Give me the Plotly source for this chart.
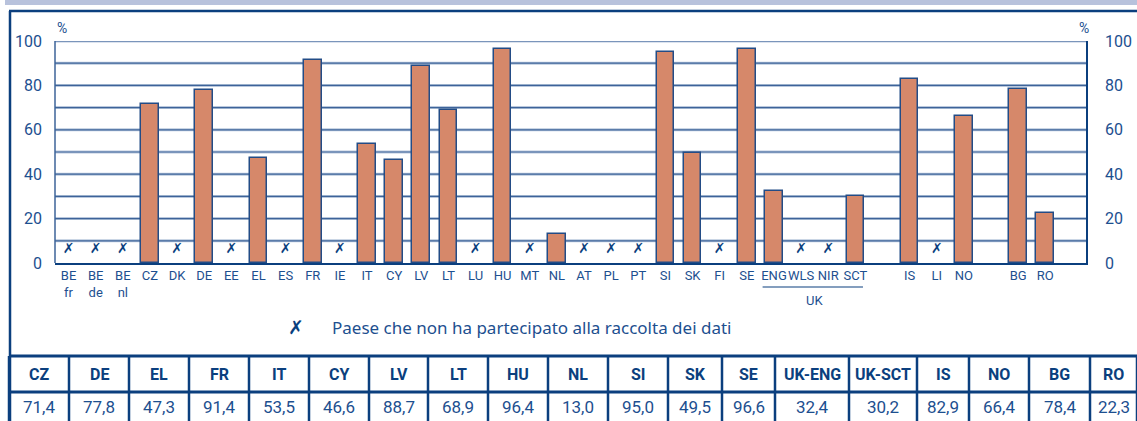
import plotly.graph_objects as go

# ---------------- data ----------------
eu_codes = ["BE<br>fr", "BE<br>de", "BE<br>nl", "CZ", "DK", "DE", "EE", "EL", "ES", "FR", "IE",
            "IT", "CY", "LV", "LT", "LU", "HU", "MT", "NL", "AT", "PL", "PT", "SI", "SK",
            "FI", "SE", "ENG", "WLS", "NIR", "SCT"]
eu_values = [None, None, None, 71.4, None, 77.8, None, 47.3, None, 91.4, None,
             53.5, 46.6, 88.7, 68.9, None, 96.4, None, 13.0, None, None, None, 95.0, 49.5,
             None, 96.6, 32.4, None, None, 30.2]
efta_codes = ["IS", "LI", "NO"]
efta_values = [82.9, None, 66.4]
cand_codes = ["BG", "RO"]
cand_values = [78.4, 22.3]
uk_codes = ["ENG", "WLS", "NIR", "SCT"]
y_ticks = [0, 20, 40, 60, 80, 100]
legend_text = "Paese che non ha partecipato alla raccolta dei dati"

# ---------------- build positions (groups separated by one empty slot) ----------------
groups = [(eu_codes, eu_values), (efta_codes, efta_values), (cand_codes, cand_values)]
xs, labels, vals = [], [], []
pos = 0
for codes, values in groups:
    for c, v in zip(codes, values):
        xs.append(pos); labels.append(c); vals.append(v)
        pos += 1
    pos += 1
n_slots = pos - 1

# ---------------- style ----------------
W, H = 1137, 421
L, R, T, B = 55, 1086, 41, 263
DARK = "#0b3f7e"
TXT = "#1d4f8f"
GRID = "#3d6399"
HALO = "#b9c8dd"
BAR = "#d6886a"
COND = "Roboto, Liberation Sans, sans-serif"
REG = "Noto Sans, Open Sans, sans-serif"


def px(x):
    return (x - L) / (R - L)


def py(y):
    return (B - y) / (B - T)


fig = go.Figure()

fig.add_trace(go.Bar(
    x=xs, y=[v if v is not None else 0 for v in vals],
    width=0.65,
    marker=dict(color=[BAR if v is not None else "rgba(0,0,0,0)" for v in vals],
                line=dict(color=["#234c86" if v is not None else "rgba(0,0,0,0)" for v in vals], width=1.5)),
    hoverinfo="skip", showlegend=False,
))

miss_x = [x for x, v in zip(xs, vals) if v is None]
fig.add_trace(go.Scatter(
    x=miss_x, y=[6] * len(miss_x), mode="text", text=["<b><i>✗</i></b>"] * len(miss_x),
    textfont=dict(size=14, color=DARK, family="DejaVu Sans"), showlegend=False, hoverinfo="skip",
))
# dummy trace for right axis
fig.add_trace(go.Scatter(x=[0], y=[0], yaxis="y2", mode="markers", marker=dict(opacity=0),
                         showlegend=False, hoverinfo="skip"))

fig.update_layout(
    width=W, height=H,
    margin=dict(l=L, r=W - R, t=T, b=H - B, autoexpand=False),
    paper_bgcolor="white", plot_bgcolor="white",
    bargap=0,
    xaxis=dict(range=[-0.5, n_slots + 0.5], tickvals=xs, ticktext=labels, tickangle=0,
               tickfont=dict(family=COND, size=13, color=TXT), showgrid=False, zeroline=False,
               showline=True, linecolor=DARK, linewidth=1.5, ticks="", fixedrange=True,
               automargin=False),
    yaxis=dict(range=[0, 100], tickvals=y_ticks, ticktext=[str(t) for t in y_ticks],
               tickfont=dict(family=COND, size=16, color=TXT), showgrid=False, zeroline=False,
               showline=False, ticks="", ticklabelstandoff=12, automargin=False),
    yaxis2=dict(range=[0, 100], overlaying="y", side="right", tickvals=y_ticks,
                ticktext=[str(t) for t in y_ticks],
                tickfont=dict(family=COND, size=16, color=TXT), showgrid=False, zeroline=False,
                showline=True, linecolor=DARK, linewidth=1.5, ticks="", ticklabelstandoff=14,
                automargin=False),
)

shapes = []
# grid lines every 10 (thin dark line with a light halo)
for g in range(10, 101, 10):
    shapes.append(dict(type="line", xref="paper", yref="y", x0=0, x1=1, y0=g, y1=g,
                       line=dict(color=HALO, width=3), layer="below"))
    shapes.append(dict(type="line", xref="paper", yref="y", x0=0, x1=1, y0=g, y1=g,
                       line=dict(color=GRID, width=1.2), layer="below"))
# left axis line
shapes.append(dict(type="line", xref="paper", yref="paper", x0=0, x1=0, y0=0, y1=1,
                   line=dict(color=GRID, width=1.5)))
# top band and frame
shapes.append(dict(type="rect", xref="paper", yref="paper", x0=px(5), x1=px(W), y0=py(0), y1=py(5),
                   fillcolor="#b8c2dc", line=dict(width=0), layer="below"))
shapes.append(dict(type="line", xref="paper", yref="paper", x0=px(9), x1=px(W), y0=py(11), y1=py(11),
                   line=dict(color=DARK, width=2.5)))
shapes.append(dict(type="line", xref="paper", yref="paper", x0=px(10), x1=px(10), y0=py(11), y1=py(H),
                   line=dict(color=DARK, width=2.5)))

annotations = []


def note(x, y, text, font, xref="paper", xanchor="center"):
    annotations.append(dict(x=x, y=y, xref=xref, yref="paper", text=text, showarrow=False,
                            xanchor=xanchor, yanchor="middle", font=font))


note(px(62), py(28), "%", dict(family=COND, size=14, color=TXT))
note(px(1084), py(28), "%", dict(family=COND, size=14, color=TXT))

# UK bracket
uk_x = [x for x, c in zip(xs, labels) if c in uk_codes]
shapes.append(dict(type="line", xref="x", yref="paper", x0=min(uk_x) - 0.42, x1=max(uk_x) + 0.28,
                   y0=py(287), y1=py(287), line=dict(color=DARK, width=1.2)))
note((min(uk_x) + max(uk_x)) / 2, py(300), "UK", dict(family=COND, size=13, color=TXT), xref="x")

# legend
note(px(296), py(327), "<b><i>✗</i></b>", dict(family="DejaVu Sans", size=19, color=DARK))
note(px(330), py(327), legend_text, dict(family=REG, size=17, color=TXT), xanchor="left")

# table
tbl_codes = []
tbl_vals = []
for c, v in zip(labels, vals):
    if v is not None:
        tbl_codes.append("UK-" + c if c in uk_codes else c)
        tbl_vals.append(v)
edges = [9, 69, 129, 189, 249, 309, 369, 428, 488, 548, 608, 668, 722, 775, 849, 917, 969, 1029, 1090, 1137]
t_top, t_mid = 356, 392
for yy in (t_top, t_mid):
    shapes.append(dict(type="line", xref="paper", yref="paper", x0=px(9), x1=px(W), y0=py(yy), y1=py(yy),
                       line=dict(color=DARK, width=3)))
for e in edges:
    shapes.append(dict(type="line", xref="paper", yref="paper", x0=px(e), x1=px(e), y0=py(t_top), y1=py(H + 2),
                       line=dict(color=DARK, width=2.5)))
for i, (c, v) in enumerate(zip(tbl_codes, tbl_vals)):
    cx = (edges[i] + edges[i + 1]) / 2
    note(px(cx), py(374), "<b>" + c + "</b>", dict(family=COND, size=16, color=DARK))
    note(px(cx), py(407), f"{v:.1f}".replace(".", ","), dict(family=COND, size=17, color=TXT))

fig.update_layout(shapes=shapes, annotations=annotations)
fig.write_html("out.html", config={"displayModeBar": False},
               post_script="document.body.style.margin='0';document.body.style.overflow='hidden';")
